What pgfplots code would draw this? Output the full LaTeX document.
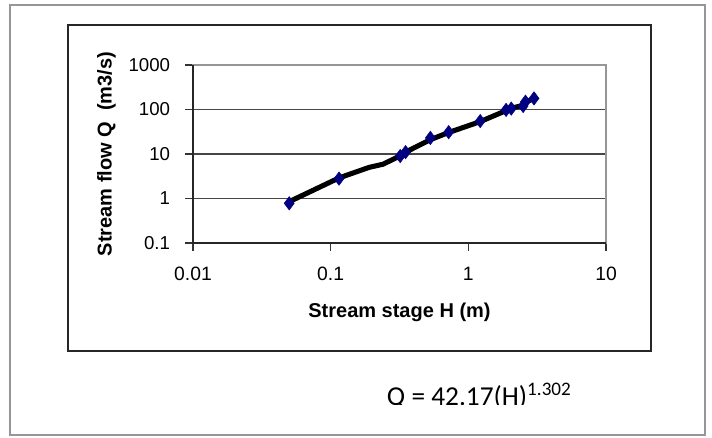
\documentclass[border=0pt]{standalone}
\usepackage{pgfplots}
\pgfplotsset{compat=1.18}
\usepackage{fontspec}
\setmainfont{Liberation Sans}
\newfontfamily\carlito{Carlito}
\definecolor{navyblue}{RGB}{0,0,128}
\definecolor{gridgray}{RGB}{70,70,70}
\definecolor{bordergray}{RGB}{150,150,150}
\newcommand\yt[1]{\fontsize{14}{16}\selectfont #1}
\newcommand\xt[1]{\fontsize{14.5}{16}\selectfont #1}

\pgfplotstableread{
H Q
0.05 0.78
0.115 2.8
0.32 9.0
0.35 11.0
0.53 23
0.72 31
1.22 55
1.88 98
2.05 105
2.5 120
2.6 150
3.0 178
}\markdata

\pgfplotstableread{
H Q
0.05 0.85
0.115 2.9
0.19 5.0
0.24 5.9
0.33 9.5
0.36 11.5
0.53 21
0.71 30
1.21 53
1.89 95
2.06 107
2.51 125
2.6 145
2.97 175
}\linedata

\begin{document}
\begin{tikzpicture}
\path[use as bounding box] (0,0) rectangle (534pt,327.75pt);
\draw[bordergray, line width=1.1pt] (7.5pt,1.5pt) rectangle (528.75pt,324pt);
\draw[black!85, line width=1.1pt] (51pt,64.5pt) rectangle (488.25pt,309pt);
\begin{axis}[
  at={(144.75pt,145.5pt)}, anchor=south west,
  scale only axis, width=309.75pt, height=133.5pt,
  xmode=log, ymode=log,
  xmin=0.01, xmax=10, ymin=0.1, ymax=1000,
  xtick={0.01,0.1,1,10}, xticklabels={\xt{0.01},\xt{0.1},\xt{1},\xt{10}},
  ytick={0.1,1,10,100,1000}, yticklabels={\yt{0.1},\yt{1},\yt{10},\yt{100},\yt{1000}},
  xminorticks=false, yminorticks=false,
  xtick pos=bottom, ytick pos=left,
  tick align=outside, major tick length=6pt,
  tick style={black!80, line width=0.8pt},
  ymajorgrids, grid style={gridgray, line width=0.8pt},
  axis line style={bordergray, line width=0.9pt},
  /pgf/number format/assume math mode=true,
  every x tick label/.append style={anchor=north, inner sep=0pt},
  every y tick label/.append style={anchor=east, inner sep=0pt},
  xticklabel shift=12pt,
  yticklabel shift=11pt,
  xlabel={\textbf{Stream stage H (m)}},
  ylabel={\textbf{Stream flow Q\ \ (m3/s)}},
  xlabel style={font=\fontsize{15}{17}\selectfont, at={(axis description cs:0.5,-0.416)}, anchor=base},
  ylabel style={font=\fontsize{15}{17}\selectfont, at={(axis description cs:-0.197,0.5)}, anchor=base},
  clip=false,
]
\addplot[only marks, mark=diamond*, mark size=5pt, color=navyblue] table[x=H,y=Q] {\markdata};
\addplot[black, line width=3.8pt, no marks, line join=round, line cap=round] table[x=H,y=Q] {\linedata};
\draw[black!85, line width=0.9pt] (rel axis cs:0,1) -- (rel axis cs:0,0) -- (rel axis cs:1,0);
\end{axis}
\begin{scope}
\clip (0pt,24.75pt) rectangle (534pt,327.75pt);
\node[anchor=base west, inner sep=0pt] at (290pt,23.5pt) {\carlito\fontsize{20.5}{24}\selectfont Q = 42.17(H)\textsuperscript{1.302}};
\end{scope}
\end{tikzpicture}
\end{document}
